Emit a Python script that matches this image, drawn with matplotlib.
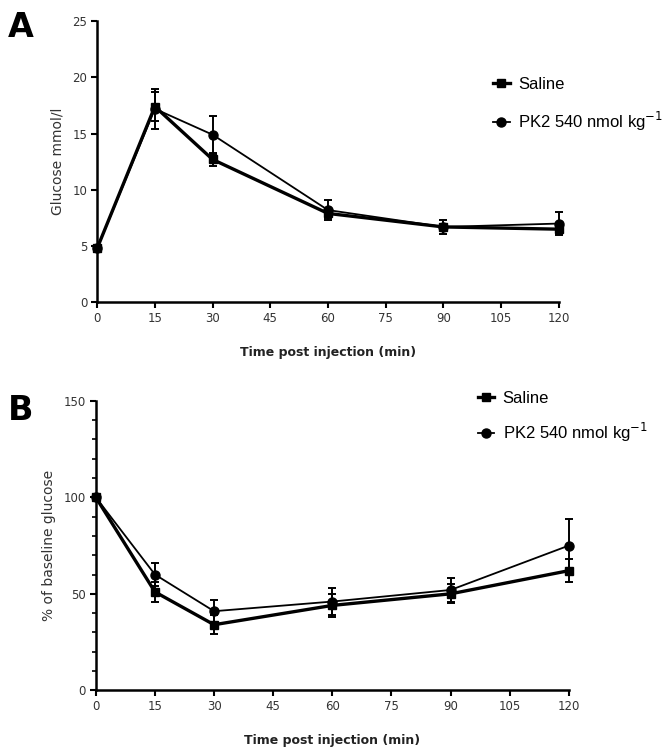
import numpy as np
import matplotlib
matplotlib.use("Agg")
import matplotlib.pyplot as plt
from matplotlib.ticker import MultipleLocator
from matplotlib.lines import Line2D

plt.rcParams['font.family'] = ['DejaVu Sans']

time = [0, 15, 30, 60, 90, 120]
x_ticks = [0, 15, 30, 45, 60, 75, 90, 105, 120]
legend_labels = ["Saline", "PK2 540 nmol kg$^{-1}$"]

# panel A: glucose mmol/l
glu_saline = [4.8, 17.4, 12.7, 7.9, 6.7, 6.5]
glu_saline_err = [0.3, 1.3, 0.6, 0.4, 0.3, 0.4]
glu_pk2 = [4.8, 17.2, 14.9, 8.2, 6.7, 7.0]
glu_pk2_err = [0.3, 1.8, 1.7, 0.9, 0.6, 1.0]

# panel B: % of baseline glucose
pct_saline = [100, 51, 34, 44, 50, 62]
pct_saline_err = [0, 5, 5, 6, 5, 6]
pct_pk2 = [100, 60, 41, 46, 52, 75]
pct_pk2_err = [0, 6, 6, 7, 6, 14]

fig = plt.figure(figsize=(6.7, 7.52), dpi=100)
axA = fig.add_axes([0.145, 0.598, 0.689, 0.374])
axB = fig.add_axes([0.143, 0.082, 0.706, 0.385])


def draw(ax, s, se, p, pe, ymax, ymajor, yminor, ylabel, leg_x, leg_y, leg_sp):
    ax.errorbar(time, s, yerr=se, color='black', marker='s', markersize=6,
                linewidth=2.4, elinewidth=1.4, capsize=3, capthick=1.4,
                clip_on=False, zorder=3)
    ax.errorbar(time, p, yerr=pe, color='black', marker='o', markersize=6.5,
                linewidth=1.3, elinewidth=1.4, capsize=3, capthick=1.4,
                clip_on=False, zorder=4)
    ax.set_xlim(0, 120)
    ax.set_ylim(0, ymax)
    ax.set_xticks(x_ticks)
    ax.yaxis.set_major_locator(MultipleLocator(ymajor))
    if yminor:
        ax.yaxis.set_minor_locator(MultipleLocator(yminor))
    for side in ['top', 'right']:
        ax.spines[side].set_visible(False)
    for side in ['left', 'bottom']:
        ax.spines[side].set_linewidth(1.8)
    ax.tick_params(axis='both', which='major', length=4, width=1.5, labelsize=8.5,
                   pad=3, labelcolor='#333333')
    ax.tick_params(axis='y', which='minor', length=3, width=1.2)
    ax.set_xlabel("Time post injection (min)", fontsize=9, fontweight='bold', labelpad=15,
                  color='#222222')
    ax.set_ylabel(ylabel, fontsize=10, labelpad=6, color='#333333')
    handles = [Line2D([], [], color='black', marker='s', markersize=6, linewidth=2.4),
               Line2D([], [], color='black', marker='o', markersize=6.5, linewidth=1.3)]
    fig.legend(handles, legend_labels, loc='upper left', bbox_to_anchor=(leg_x, leg_y),
               frameon=False, prop={'family': 'Liberation Sans', 'size': 12},
               handlelength=1.0, handletextpad=0.5, labelspacing=leg_sp, borderaxespad=0,
               borderpad=0)


draw(axA, glu_saline, glu_saline_err, glu_pk2, glu_pk2_err, 25, 5, None,
     "Glucose mmol/l", 0.736, 0.898, 1.1)
draw(axB, pct_saline, pct_saline_err, pct_pk2, pct_pk2_err, 150, 50, 10,
     "% of baseline glucose", 0.713, 0.480, 0.9)

fig.text(0.012, 0.985, "A", fontsize=24, fontweight='bold', va='top')
fig.text(0.012, 0.476, "B", fontsize=24, fontweight='bold', va='top')

fig.savefig("out.png", dpi=100)
